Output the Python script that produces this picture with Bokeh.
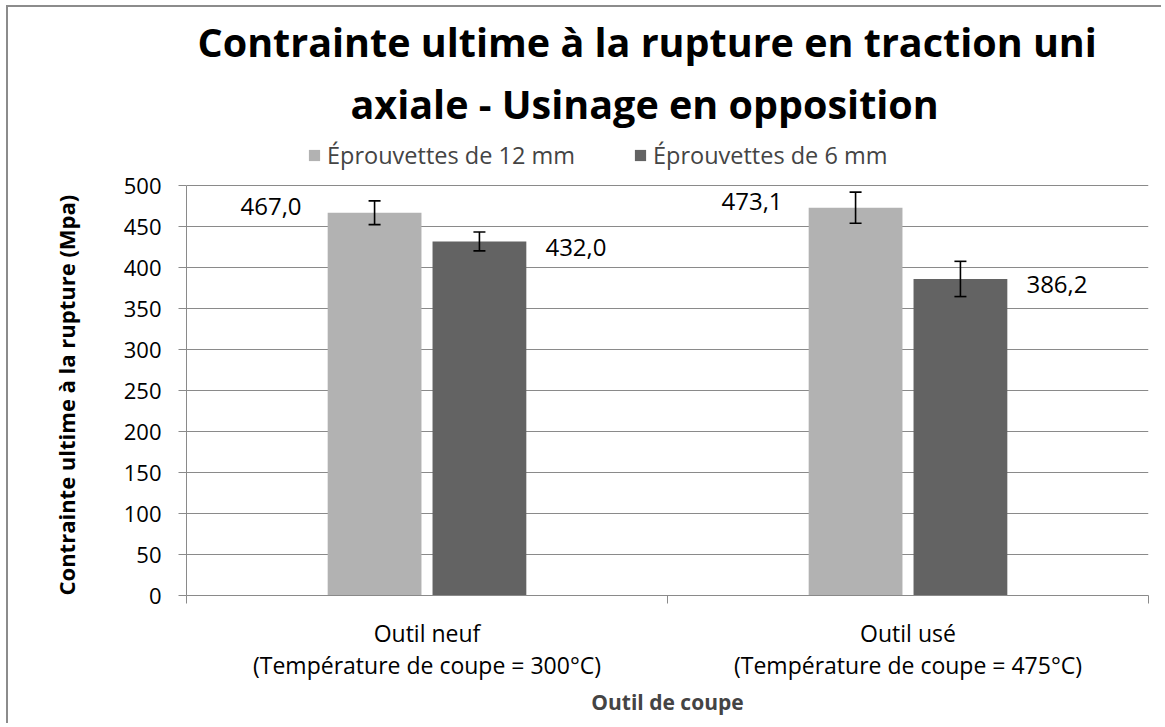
import numpy as np
from bokeh.plotting import figure
from bokeh.models import (ColumnDataSource, Range1d, FixedTicker, Legend, LegendItem,
                          Whisker, TeeHead, LabelSet, Title)
from bokeh.core.properties import value
from bokeh.embed import file_html
from bokeh.resources import INLINE

# ---------------- data ----------------
categories = ["Outil neuf\n(Température de coupe = 300°C)",
              "Outil usé\n(Température de coupe = 475°C)"]
series_names = ["Éprouvettes de 12 mm", "Éprouvettes de 6 mm"]
values_12 = [467.0, 473.1]
values_6 = [432.0, 386.2]
errors_12 = [14.5, 19.0]
errors_6 = [11.5, 21.5]
y_ticks = [0, 50, 100, 150, 200, 250, 300, 350, 400, 450, 500]
title_lines = ["Contrainte ultime à la rupture en traction uni",
               "axiale - Usinage en opposition"]
x_title = "Outil de coupe"
y_title = "Contrainte ultime à la rupture (Mpa)"

# ---------------- style ----------------
FONT = "Open Sans"
C12 = "#b2b2b2"
C6 = "#636363"
GRID = "#8a8a8a"
OFF = 0.109
BW = 0.195
Y_TOP = 560   # frame extends above the axis (room for the legend)


def fmt(v):
    return f"{v:.1f}".replace(".", ",")


idx = np.arange(len(categories)) + 0.5
src12 = ColumnDataSource(dict(x=idx - OFF, top=values_12,
                              up=[v + e for v, e in zip(values_12, errors_12)],
                              lo=[v - e for v, e in zip(values_12, errors_12)],
                              lab=[fmt(v) for v in values_12]))
src6 = ColumnDataSource(dict(x=idx + OFF, top=values_6,
                             up=[v + e for v, e in zip(values_6, errors_6)],
                             lo=[v - e for v, e in zip(values_6, errors_6)],
                             lab=[fmt(v) for v in values_6]))

W, H = 1155, 718
p = figure(width=W, height=H, output_backend="svg", toolbar_location=None,
           x_range=Range1d(0, len(categories)), y_range=Range1d(y_ticks[0], Y_TOP),
           min_border_left=177, min_border_right=15, min_border_top=129, min_border_bottom=130)
p.outline_line_color = None
p.background_fill_color = "white"
p.border_fill_color = "white"

r12 = p.vbar(x="x", top="top", width=BW, source=src12, fill_color=C12, line_color=None)
r6 = p.vbar(x="x", top="top", width=BW, source=src6, fill_color=C6, line_color=None)

for s in (src12, src6):
    w = Whisker(base="x", upper="up", lower="lo", source=s, line_color="black", line_width=1.6,
                level="overlay",
                upper_head=TeeHead(size=12, line_color="black", line_width=1.6),
                lower_head=TeeHead(size=12, line_color="black", line_width=1.6))
    p.add_layout(w)

p.add_layout(LabelSet(x="x", y="top", text="lab", source=src12, x_offset=-73, y_offset=6,
                      text_align="right", text_baseline="middle", text_font=value(FONT),
                      text_font_size="24px", text_color="black"))
p.add_layout(LabelSet(x="x", y="top", text="lab", source=src6, x_offset=66, y_offset=-6,
                      text_align="left", text_baseline="middle", text_font=value(FONT),
                      text_font_size="24px", text_color="black"))

legend = Legend(items=[LegendItem(label=series_names[0], renderers=[r12]),
                       LegendItem(label=series_names[1], renderers=[r6])],
                orientation="horizontal", location=(121, 424), padding=5, margin=0,
                spacing=58, glyph_width=14, glyph_height=14, label_standoff=6,
                label_height=22, label_text_font=FONT, label_text_font_size="23.5px",
                border_line_color=None, background_fill_alpha=0)
p.add_layout(legend)

t2 = Title(text=title_lines[1], align="left", offset=164, standoff=12, text_font=FONT,
           text_font_size="39.5px", text_font_style="bold", text_color="black")
t1 = Title(text=title_lines[0], align="left", offset=11, standoff=0, text_font=FONT,
           text_font_size="39.5px", text_font_style="bold", text_color="black")
p.add_layout(t2, "above")
p.add_layout(t1, "above")

# axes
xa = p.xaxis[0]
xa.ticker = FixedTicker(ticks=list(idx), minor_ticks=list(np.arange(len(categories) + 1)))
xa.major_label_overrides = {float(i): c for i, c in zip(idx, categories)}
xa.major_tick_out = 0
xa.major_tick_in = 0
xa.minor_tick_out = 8
xa.minor_tick_in = 0
xa.minor_tick_line_color = GRID
xa.axis_line_color = GRID
xa.major_label_text_font = FONT
xa.major_label_text_font_size = "23px"
xa.major_label_text_line_height = 1.0
xa.major_label_text_color = "black"
xa.major_label_standoff = 13
xa.axis_label = x_title
xa.axis_label_text_font = FONT
xa.axis_label_text_font_size = "21px"
xa.axis_label_text_font_style = "bold"
xa.axis_label_standoff = 4

ya = p.yaxis[0]
ya.ticker = FixedTicker(ticks=y_ticks, minor_ticks=[])
ya.bounds = (y_ticks[0], y_ticks[-1])
ya.major_tick_out = 8
ya.major_tick_in = 0
ya.major_tick_line_color = GRID
ya.axis_line_color = GRID
ya.major_label_text_font = FONT
ya.major_label_text_font_size = "22px"
ya.major_label_text_color = "black"
ya.major_label_standoff = 17

ty = Title(text=y_title, align="left", offset=0, standoff=80,
           text_font=FONT, text_font_size="22px", text_font_style="bold", text_color="black")
p.add_layout(ty, "left")

p.xgrid.grid_line_color = None
p.ygrid.grid_line_color = GRID
p.ygrid.grid_line_width = 1

p.styles = {"margin-left": "6px", "margin-top": "5px",
            "border-left": "2px solid #8c8c8c", "border-top": "2px solid #8c8c8c"}

open("out.html", "w").write(file_html(p, INLINE))
